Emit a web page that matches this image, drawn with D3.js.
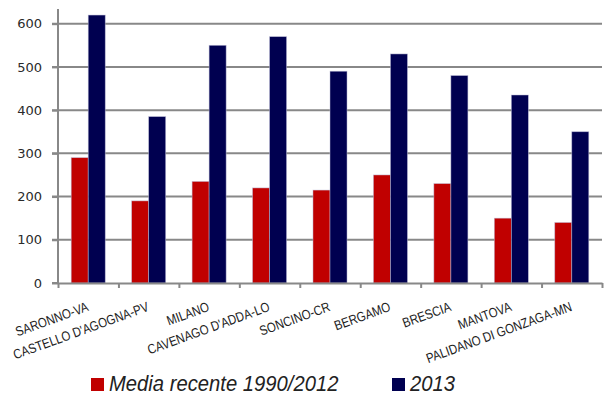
<!DOCTYPE html>
<html>
<head>
<meta charset="utf-8">
<script src="https://cdn.jsdelivr.net/npm/d3@7"></script>
<style>
  html, body { margin: 0; padding: 0; background: #fff; }
  svg { display: block; }
</style>
</head>
<body>
<svg id="chart" width="606" height="396"></svg>
<script>
const categories = ["SARONNO-VA", "CASTELLO D'AGOGNA-PV", "MILANO", "CAVENAGO D'ADDA-LO", "SONCINO-CR", "BERGAMO", "BRESCIA", "MANTOVA", "PALIDANO DI GONZAGA-MN"];
const mediaRecente = [290, 190, 235, 220, 215, 250, 230, 150, 140];
const anno2013 = [620, 385, 550, 570, 490, 530, 480, 435, 350];
const seriesNames = ["Media recente 1990/2012", "2013"];
const seriesColors = ["#C00000", "#000050"];
const yTicks = [0, 100, 200, 300, 400, 500, 600];

(function () {
const svg = d3.select("#chart");
const mLeft = 58, mRight = 602, mTop = 9, mBottom = 283;

const x = d3.scaleBand().domain(categories).range([mLeft, mRight]).paddingInner(0).paddingOuter(0);
const x1 = d3.scaleBand().domain(seriesNames).range([0, x.bandwidth()]).paddingInner(0).paddingOuter(0.776);
const y = d3.scaleLinear().domain([0, 634]).range([mBottom, mTop]);

// gridlines
svg.append("g").selectAll("line").data(yTicks.filter(d => d > 0)).join("line")
  .attr("x1", mLeft - 6).attr("x2", mRight)
  .attr("y1", d => y(d)).attr("y2", d => y(d))
  .attr("stroke", "#888").attr("stroke-width", 2);

// y axis
const yAxis = svg.append("g").attr("transform", `translate(${mLeft},0)`)
  .call(d3.axisLeft(y).tickValues(yTicks).tickSize(6).tickPadding(10));
yAxis.select(".domain").attr("stroke", "#888").attr("stroke-width", 2).attr("d", `M-6,${mBottom}H0V${mTop}`);
yAxis.selectAll(".tick line").attr("stroke", "#888").attr("stroke-width", 2);
yAxis.selectAll(".tick text").attr("font-family", "DejaVu Sans, sans-serif").attr("font-size", 13).attr("fill", "#2a2a2a");

// bars
const data = categories.map((c, i) => ({ c, vals: [mediaRecente[i], anno2013[i]] }));
const groups = svg.append("g").selectAll("g").data(data).join("g")
  .attr("transform", d => `translate(${x(d.c)},0)`);
groups.selectAll("rect").data(d => d.vals.map((v, j) => ({ v, s: seriesNames[j], j }))).join("rect")
  .attr("x", d => x1(d.s)).attr("width", x1.bandwidth())
  .attr("y", d => y(d.v)).attr("height", d => y(0) - y(d.v))
  .attr("fill", d => seriesColors[d.j])
  .attr("stroke", "rgba(190,190,215,0.7)").attr("stroke-width", 0.7);

// x axis with boundary ticks
const xb = d3.scaleLinear().domain([0, categories.length]).range([mLeft, mRight]);
const xAxis = svg.append("g").attr("transform", `translate(0,${mBottom})`)
  .call(d3.axisBottom(xb).tickValues(d3.range(categories.length + 1)).tickSize(5).tickSizeOuter(0).tickFormat(""));
xAxis.select(".domain").attr("stroke", "#888").attr("stroke-width", 2);
xAxis.selectAll(".tick line").attr("stroke", "#888").attr("stroke-width", 2);

// x labels
svg.append("g").selectAll("text").data(categories).join("text")
  .attr("transform", d => `translate(${x(d) + x.bandwidth() / 2 + 1},310.5) rotate(-20) scale(0.85,1)`)
  .attr("text-anchor", "end")
  .attr("font-family", "Liberation Sans, sans-serif")
  .attr("font-size", 13.5)
  .attr("fill", "#222")
  .text(d => d);

// legend
const legend = svg.append("g");
const legX = [91, 392];
seriesNames.forEach((s, i) => {
  legend.append("rect").attr("x", legX[i]).attr("y", 378).attr("width", 13).attr("height", 13).attr("fill", seriesColors[i]);
  legend.append("text").attr("transform", `translate(${legX[i] + 18},391) scale(0.92,1)`)
    .attr("font-family", "Liberation Sans, sans-serif")
    .attr("font-style", "italic").attr("font-size", 22).attr("fill", "#222")
    .text(s);
});
})();
</script>
</body>
</html>
